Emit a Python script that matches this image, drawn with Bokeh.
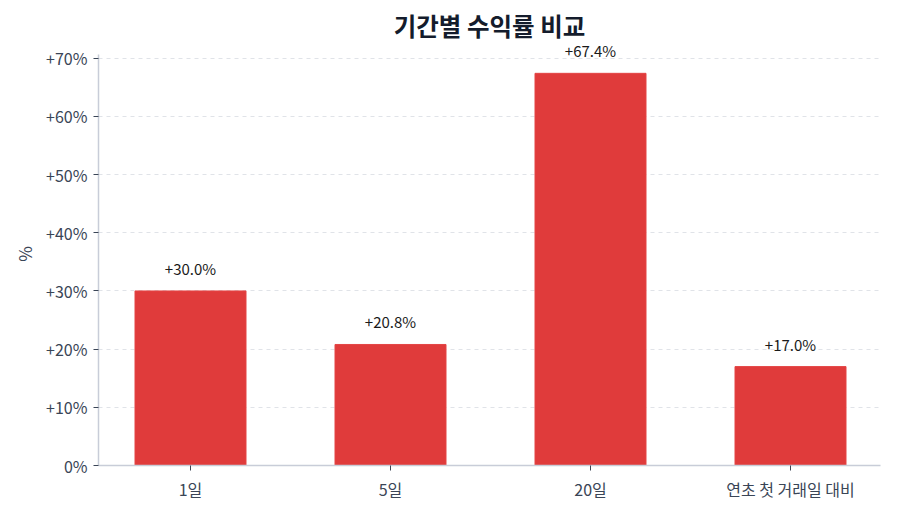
from bokeh.plotting import figure
from bokeh.models import ColumnDataSource, Range1d, FixedTicker, LabelSet
from bokeh.core.properties import value
from bokeh.embed import file_html
from bokeh.resources import INLINE

categories = ["1일", "5일", "20일", "연초 첫 거래일 대비"]
returns = [30.0, 20.8, 67.4, 17.0]
y_ticks = [0, 10, 20, 30, 40, 50, 60, 70]
y_tick_labels = ["0%", "+10%", "+20%", "+30%", "+40%", "+50%", "+60%", "+70%"]

FONT = "Noto Sans CJK KR"

xs = list(range(len(categories)))
src = ColumnDataSource(dict(
    x=xs, top=returns,
    label=["+%.1f%%" % v for v in returns],
))

p = figure(width=900, height=514, output_backend="svg", toolbar_location=None,
           x_range=Range1d(-0.46, 3.45), y_range=Range1d(0, 72.7),
           min_border_left=98, min_border_right=20, min_border_top=42, min_border_bottom=49)
p.outline_line_color = None

p.title.text = "기간별 수익률 비교"
p.title.align = "center"
p.title.text_font = FONT
p.title.text_font_size = "24.5px"
p.title.text_font_style = "bold"
p.title.text_color = "#141c2c"
p.title.offset = 0
p.title.standoff = 0

p.vbar(x="x", top="top", width=0.555, bottom=0, source=src,
       fill_color="#e03b3b", line_color="#e44545", line_width=1)

labels = LabelSet(x="x", y="top", text="label", source=src, y_offset=12,
                  text_align="center", text_baseline="bottom",
                  text_font=value(FONT), text_font_size="15px", text_color="#1a1a1a")
p.add_layout(labels)

p.xaxis.ticker = FixedTicker(ticks=xs)
p.xaxis.major_label_overrides = {i: c for i, c in zip(xs, categories)}
p.yaxis.ticker = FixedTicker(ticks=y_ticks)
p.yaxis.major_label_overrides = {t: l for t, l in zip(y_ticks, y_tick_labels)}
p.yaxis.bounds = (0, 70.7)

for ax in (p.xaxis, p.yaxis):
    ax.axis_line_color = "#c8cdd8"
    ax.axis_line_width = 1.5
    ax.major_tick_line_color = "#3a4556"
    ax.major_tick_in = 0
    ax.major_tick_out = 5
    ax.minor_tick_line_color = None
    ax.major_label_text_font = FONT
    ax.major_label_text_font_size = "16px"
    ax.major_label_text_color = "#3a4556"
    ax.major_label_standoff = 6

p.yaxis.axis_label = "%"
p.yaxis.axis_label_text_font = FONT
p.yaxis.axis_label_text_font_size = "17px"
p.yaxis.axis_label_text_font_style = "normal"
p.yaxis.axis_label_text_color = "#3a4556"
p.yaxis.axis_label_standoff = 6

p.xgrid.grid_line_color = None
p.ygrid.grid_line_color = "#e0e3e8"
p.ygrid.grid_line_dash = "4 4"
p.ygrid.grid_line_width = 1

open("out.html", "w").write(file_html(p, INLINE))
